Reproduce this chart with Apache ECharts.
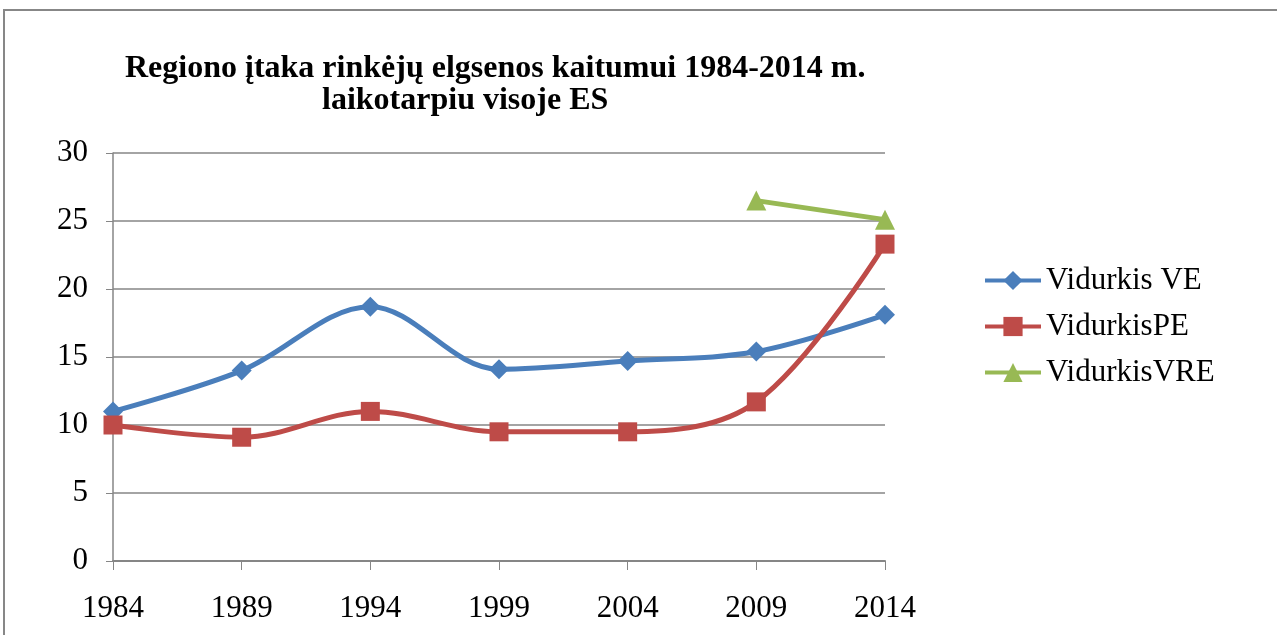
<!DOCTYPE html>
<html>
<head>
<meta charset="utf-8">
<script src="https://cdn.jsdelivr.net/npm/echarts@6/dist/echarts.min.js"></script>
<style>
  html, body { margin: 0; padding: 0; background: #fff; }
  #chart { width: 1277px; height: 635px; }
</style>
</head>
<body>
<div id="chart"></div>
<script>
var years = ['1984', '1989', '1994', '1999', '2004', '2009', '2014'];
var vidurkisVE = [11.0, 14.0, 18.7, 14.1, 14.7, 15.4, 18.1];
var vidurkisPE = [10.0, 9.1, 11.0, 9.5, 9.5, 11.7, 23.3];
var vidurkisVRE = ['-', '-', '-', '-', '-', 26.5, 25.1];

var font = 'Liberation Serif, Times New Roman, serif';
var titleStyle = {
    fontFamily: font,
    fontSize: 32,
    fontWeight: 'bold',
    color: '#000',
    lineHeight: 32
};

var chart = echarts.init(document.getElementById('chart'));
chart.setOption({
    animation: false,
    graphic: [{
        type: 'rect',
        shape: { x: 4, y: 10, width: 1290, height: 640 },
        style: { fill: 'none', stroke: '#878787', lineWidth: 2 }
    }],
    title: [
        { text: 'Regiono įtaka rinkėjų elgsenos kaitumui 1984-2014 m.', left: 120, top: 48, textStyle: titleStyle },
        { text: 'laikotarpiu visoje ES', left: 317, top: 80, textStyle: titleStyle }
    ],
    legend: {
        orient: 'vertical',
        left: 978,
        top: 260,
        itemGap: 15,
        itemWidth: 56,
        itemHeight: 24,
        lineStyle: { width: 4 },
        textStyle: { fontFamily: font, fontSize: 31, color: '#000' },
        data: ['Vidurkis VE', 'VidurkisPE', 'VidurkisVRE']
    },
    grid: { left: 113, right: 392, top: 153, bottom: 74 },
    xAxis: {
        type: 'category',
        data: years,
        boundaryGap: false,
        axisLine: { lineStyle: { color: '#868686', width: 2 } },
        axisTick: { show: true, length: 9, lineStyle: { color: '#868686' } },
        axisLabel: { fontFamily: font, fontSize: 31, color: '#000', margin: 32 }
    },
    yAxis: {
        type: 'value',
        min: 0,
        max: 30,
        interval: 5,
        axisLine: { show: true, lineStyle: { color: '#868686', width: 1.5 } },
        axisTick: { show: true, length: 7, lineStyle: { color: '#868686' } },
        axisLabel: { fontFamily: font, fontSize: 31, color: '#000', margin: 25 },
        splitLine: { lineStyle: { color: '#868686', width: 1.5 } }
    },
    series: [
        {
            name: 'Vidurkis VE',
            type: 'line',
            data: vidurkisVE,
            smooth: 0.35,
            symbol: 'diamond',
            symbolSize: 20,
            itemStyle: { color: '#4a7ebb' },
            lineStyle: { width: 5, color: '#4a7ebb' }
        },
        {
            name: 'VidurkisPE',
            type: 'line',
            data: vidurkisPE,
            smooth: 0.35,
            symbol: 'rect',
            symbolSize: 19,
            itemStyle: { color: '#be4b48' },
            lineStyle: { width: 5, color: '#be4b48' }
        },
        {
            name: 'VidurkisVRE',
            type: 'line',
            data: vidurkisVRE,
            symbol: 'triangle',
            symbolSize: 20,
            itemStyle: { color: '#98b954' },
            lineStyle: { width: 5, color: '#98b954' }
        }
    ]
});
</script>
</body>
</html>
